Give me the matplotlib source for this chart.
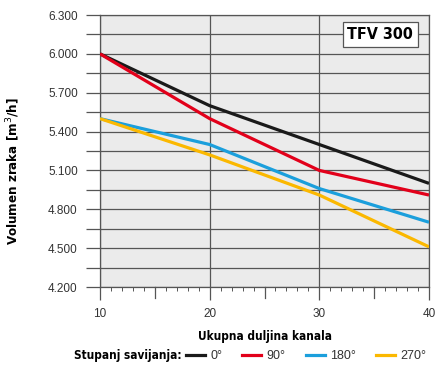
import matplotlib
matplotlib.use("Agg")
import matplotlib.pyplot as plt
from matplotlib.lines import Line2D
from matplotlib.ticker import MultipleLocator, FuncFormatter

# duct length [m]
duljina = [10, 20, 30, 40]
# air volume [m3/h] per bend angle
kut_0 = [6000, 5600, 5300, 5000]
kut_90 = [6000, 5500, 5100, 4910]
kut_180 = [5500, 5300, 4960, 4700]
kut_270 = [5500, 5220, 4910, 4510]

serije = [("0°", kut_0, "#1a1a1a"),
          ("90°", kut_90, "#e2001a"),
          ("180°", kut_180, "#1b9fdc"),
          ("270°", kut_270, "#fbb800")]

bold_kw = dict(family="DejaVu Sans", fontstretch="condensed", fontweight="bold")
regular = ["Liberation Sans", "DejaVu Sans"]
grid_c = "#555555"

fig = plt.figure(figsize=(4.4, 3.72), dpi=100)
W, H = 440, 372
ax = fig.add_axes([100 / W, 1 - 287 / H, 329 / W, 272 / H])
ax.set_facecolor("#ebebeb")

for name, vals, col in serije:
    ax.plot(duljina, vals, color=col, lw=2.3, solid_capstyle="butt", zorder=3)

ax.set_xlim(10, 40)
ax.set_ylim(4200, 6300)

ax.yaxis.set_major_locator(MultipleLocator(300))
ax.yaxis.set_minor_locator(MultipleLocator(150))
ax.yaxis.set_major_formatter(FuncFormatter(lambda v, p: f"{int(v):,}".replace(",", ".")))
ax.xaxis.set_major_locator(MultipleLocator(10))
ax.xaxis.set_minor_locator(MultipleLocator(1))

ax.grid(which="major", axis="x", color=grid_c, lw=0.9)
ax.grid(which="both", axis="y", color=grid_c, lw=0.9)
ax.set_axisbelow(True)
for s in ax.spines.values():
    s.set_color(grid_c)
    s.set_linewidth(0.9)

ax.tick_params(axis="y", which="both", length=10, width=0.9, color=grid_c,
               pad=6, labelsize=8.5, labelcolor="#333333")
ax.tick_params(axis="x", which="major", length=9, width=0.9, color=grid_c,
               pad=6, labelsize=8.5, labelcolor="#333333")
ax.tick_params(axis="x", which="minor", length=3, width=0.7, color=grid_c)
for lab in ax.get_xticklabels() + ax.get_yticklabels():
    lab.set_family(regular)

# longer ticks at 15, 25, 35
for xv in [15, 25, 35]:
    ax.plot([xv, xv], [0, -0.042], transform=ax.get_xaxis_transform(),
            color=grid_c, lw=0.9, clip_on=False)

ax.set_xlabel("Ukupna duljina kanala", fontsize=8.5, labelpad=7, **bold_kw)
fig.text(13 / W, 1 - 171 / H, "Volumen zraka [m$^3$/h]", rotation=90,
         ha="center", va="center", fontsize=9.5, **bold_kw)

ax.text(0.952, 0.955, "TFV 300", transform=ax.transAxes, ha="right", va="top",
        fontsize=11.5, **bold_kw,
        bbox=dict(boxstyle="square,pad=0.3", fc="white", ec=grid_c, lw=0.9))

fig.text(74 / W, 1 - 356 / H, "Stupanj savijanja:", ha="left", va="center",
         fontsize=8.5, **bold_kw)
handles = [Line2D([], [], color=c, lw=2.3) for _, _, c in serije]
leg = fig.legend(handles, [n for n, _, _ in serije], ncol=4, frameon=False,
                 loc="center left", bbox_to_anchor=(186 / W, 1 - 356 / H),
                 borderpad=0, borderaxespad=0,
                 handlelength=1.5, handletextpad=0.45, columnspacing=1.6,
                 prop={"family": regular, "size": 9})
for t in leg.get_texts():
    t.set_color("#333333")

fig.savefig("out.png", dpi=100, facecolor="white")
